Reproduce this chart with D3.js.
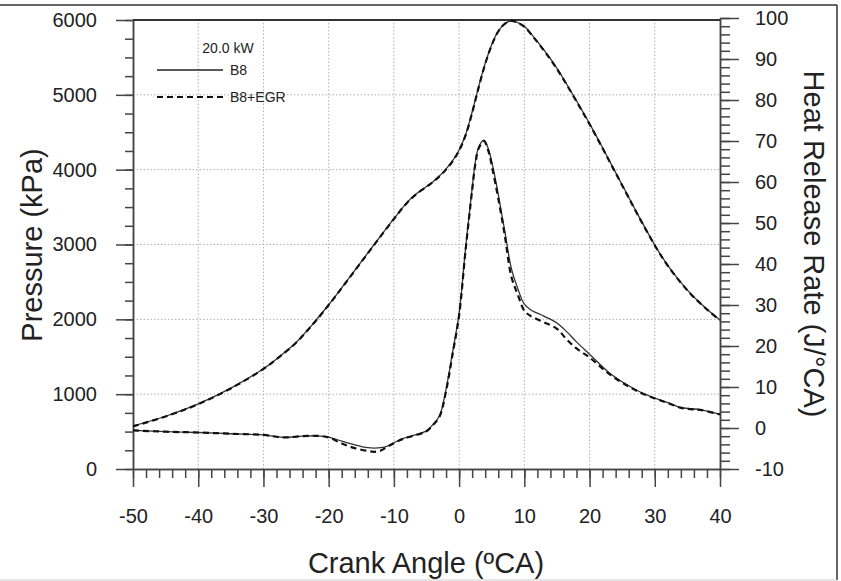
<!DOCTYPE html>
<html>
<head>
<meta charset="utf-8">
<script src="https://cdn.jsdelivr.net/npm/d3@7"></script>
<style>
  body { margin: 0; background: #fff; }
  svg text { font-family: "Liberation Sans", Arial, sans-serif; fill: #222; }
</style>
</head>
<body>
<svg id="chart" width="841" height="581"></svg>
<script>
// crank angle grid for the pressure traces
const angleP = [-50, -45, -40, -35, -30, -27.5, -25, -22.5, -20, -17.5, -15, -12.5, -10, -8, -6.5, -5, -4, -2.5, -1, 0, 1, 2, 3, 4, 5, 6, 7, 8, 9, 10, 11.4, 13, 14.5, 16, 18, 20, 22, 23.7, 25.5, 27.3, 30.3, 32, 33.9, 35.5, 37, 38.5, 40];
const pressureB8 = [575, 705, 869, 1080, 1340, 1505, 1690, 1930, 2195, 2480, 2770, 3060, 3345, 3560, 3680, 3775, 3840, 3960, 4120, 4263, 4470, 4770, 5110, 5420, 5670, 5850, 5950, 5990, 5965, 5915, 5777, 5600, 5420, 5215, 4920, 4616, 4292, 4011, 3714, 3417, 2949, 2720, 2503, 2343, 2214, 2097, 1991];
const pressureEGR = [570, 702, 866, 1077, 1337, 1502, 1687, 1926, 2191, 2476, 2766, 3056, 3341, 3556, 3676, 3771, 3836, 3955, 4112, 4255, 4460, 4760, 5100, 5412, 5664, 5846, 5948, 5988, 5962, 5910, 5770, 5592, 5412, 5207, 4912, 4608, 4285, 4004, 3708, 3411, 2944, 2716, 2499, 2340, 2211, 2094, 1988];

// crank angle grid for the heat release traces
const angleH = [-50, -45, -40, -35, -30, -27, -24, -22, -20, -18, -16, -14, -13, -12, -11, -10, -8.5, -7, -5, -4, -3, -2, -1, 0, 1, 2, 2.5, 3, 3.8, 4.5, 5.2, 6, 7, 8, 9, 10, 11, 13, 15, 16.5, 18, 20, 23, 26, 28, 30, 32, 34, 35.5, 37, 40];
const hrrB8 = [-0.6, -0.9, -1.1, -1.4, -1.7, -2.3, -2.0, -1.9, -2.2, -3.2, -4.1, -4.8, -4.9, -4.8, -4.4, -3.6, -2.5, -1.8, -0.7, 0.9, 3.0, 9.5, 18.5, 28, 44, 58.5, 65, 68.5, 70.2, 68, 63.5, 57, 48, 39, 34, 30.2, 28.8, 27.3, 25.6, 23.5, 21, 18, 13.5, 10.3, 8.6, 7.3, 6.2, 5.0, 4.7, 4.5, 3.3];
const hrrEGR = [-0.6, -0.9, -1.1, -1.4, -1.7, -2.3, -2.0, -1.9, -2.3, -3.8, -4.9, -5.6, -5.8, -5.5, -4.6, -3.7, -2.6, -1.9, -0.8, 0.7, 2.8, 9.0, 18, 27.5, 43.5, 58, 64.5, 68.2, 70, 67.5, 62.5, 56, 47, 37, 32.5, 28.6, 27.3, 25.8, 24.2, 21.6, 19.4, 17.2, 13.2, 10.1, 8.5, 7.2, 6.1, 4.9, 4.6, 4.4, 3.3];

const xTicks = [-50, -40, -30, -20, -10, 0, 10, 20, 30, 40];
const pTicks = [0, 1000, 2000, 3000, 4000, 5000, 6000];
const hTicks = [-10, 0, 10, 20, 30, 40, 50, 60, 70, 80, 90, 100];

const svg = d3.select("#chart");

const x = d3.scaleLinear().domain([-50, 40]).range([133, 720]);
const yP = d3.scaleLinear().domain([0, 6000]).range([469, 20]);
const yH = d3.scaleLinear().domain([-10, 100]).range([469, 18]);

// outer picture border
svg.append("line").attr("x1", 0).attr("x2", 837).attr("y1", 5).attr("y2", 5).attr("stroke", "#333").attr("stroke-width", 1.5);
svg.append("line").attr("x1", 837).attr("x2", 837).attr("y1", 5).attr("y2", 580).attr("stroke", "#333").attr("stroke-width", 1.5);
svg.append("line").attr("x1", 0).attr("x2", 837).attr("y1", 580).attr("y2", 580).attr("stroke", "#ccc");

// dotted grid
const grid = svg.append("g").attr("stroke", "#b0b0b0").attr("stroke-dasharray", "1.5,2");
grid.selectAll(".vg").data(xTicks.slice(1, -1)).enter().append("line")
    .attr("x1", d => x(d)).attr("x2", d => x(d))
    .attr("y1", yP(0)).attr("y2", yP(6000));
grid.selectAll(".hg").data(pTicks.slice(1)).enter().append("line")
    .attr("x1", x(-50)).attr("x2", x(40))
    .attr("y1", d => yP(d)).attr("y2", d => yP(d));

// minor ticks
const minor = (axis, vals, size) => axis.tickValues(vals).tickSize(size).tickFormat("").tickSizeOuter(0);
svg.append("g").attr("transform", `translate(0,${yP(0)})`)
    .call(minor(d3.axisBottom(x), d3.range(-50, 41, 2), 9));
svg.append("g").attr("transform", `translate(${x(-50)},0)`)
    .call(minor(d3.axisLeft(yP), d3.range(0, 6001, 250), 8));
svg.append("g").attr("transform", `translate(${x(40)},0)`)
    .call(minor(d3.axisRight(yH), d3.range(-10, 101, 2), 10));

// major axes (plain hyphen minus, no thousands separator)
const plain = d => String(d);
const xAxis = svg.append("g").attr("transform", `translate(0,${yP(0)})`)
    .call(d3.axisBottom(x).tickValues(xTicks).tickFormat(plain).tickSize(18).tickPadding(22).tickSizeOuter(0));
const pAxis = svg.append("g").attr("transform", `translate(${x(-50)},0)`)
    .call(d3.axisLeft(yP).tickValues(pTicks).tickFormat(plain).tickSize(17).tickPadding(19).tickSizeOuter(0));
const hAxis = svg.append("g").attr("transform", `translate(${x(40)},0)`)
    .call(d3.axisRight(yH).tickValues(hTicks).tickFormat(plain).tickSize(19).tickPadding(16).tickSizeOuter(0));

svg.selectAll(".tick line").attr("stroke", "#444").attr("stroke-width", 1.5);
svg.selectAll(".domain").attr("stroke", "#444").attr("stroke-width", 1.5);
[xAxis, pAxis, hAxis].forEach(a => a.selectAll("text")
    .style("font-size", "20px").style("font-family", "'Liberation Sans', Arial, sans-serif").attr("fill", "#222"));

// top frame
svg.append("line").attr("x1", x(-50)).attr("x2", x(40)).attr("y1", yP(6000)).attr("y2", yP(6000))
    .attr("stroke", "#333").attr("stroke-width", 2);

// curves
const curve = d3.curveCatmullRom.alpha(0.5);
const lineP = d3.line().x((d, i) => x(angleP[i])).y(d => yP(d)).curve(curve);
const lineH = d3.line().x((d, i) => x(angleH[i])).y(d => yH(d)).curve(curve);

svg.append("path").datum(pressureB8).attr("d", lineP)
    .attr("fill", "none").attr("stroke", "#333").attr("stroke-width", 1.3);
svg.append("path").datum(hrrB8).attr("d", lineH)
    .attr("fill", "none").attr("stroke", "#333").attr("stroke-width", 1.3);
svg.append("path").datum(pressureEGR).attr("d", lineP)
    .attr("fill", "none").attr("stroke", "#111").attr("stroke-width", 2.2).attr("stroke-dasharray", "6,4");
svg.append("path").datum(hrrEGR).attr("d", lineH)
    .attr("fill", "none").attr("stroke", "#111").attr("stroke-width", 2.2).attr("stroke-dasharray", "6,4");

// legend
svg.append("text").attr("x", 228).attr("y", 53).attr("text-anchor", "middle")
    .style("font-size", "14px").text("20.0 kW");
svg.append("line").attr("x1", 157).attr("x2", 223).attr("y1", 70).attr("y2", 70)
    .attr("stroke", "#222").attr("stroke-width", 1.3);
svg.append("text").attr("x", 230).attr("y", 75).style("font-size", "14px").text("B8");
svg.append("line").attr("x1", 157).attr("x2", 223).attr("y1", 97).attr("y2", 97)
    .attr("stroke", "#111").attr("stroke-width", 2.2).attr("stroke-dasharray", "6,4");
svg.append("text").attr("x", 230).attr("y", 102).style("font-size", "14px").text("B8+EGR");

// axis titles
svg.append("text").attr("x", 426).attr("y", 573).attr("text-anchor", "middle")
    .style("font-size", "29px").text("Crank Angle (ºCA)");
svg.append("text").attr("transform", "translate(42,245) rotate(-90)").attr("text-anchor", "middle")
    .style("font-size", "29px").text("Pressure (kPa)");
svg.append("text").attr("transform", "translate(804,244) rotate(90)").attr("text-anchor", "middle")
    .style("font-size", "29px").text("Heat Release Rate (J/°CA)");
</script>
</body>
</html>
